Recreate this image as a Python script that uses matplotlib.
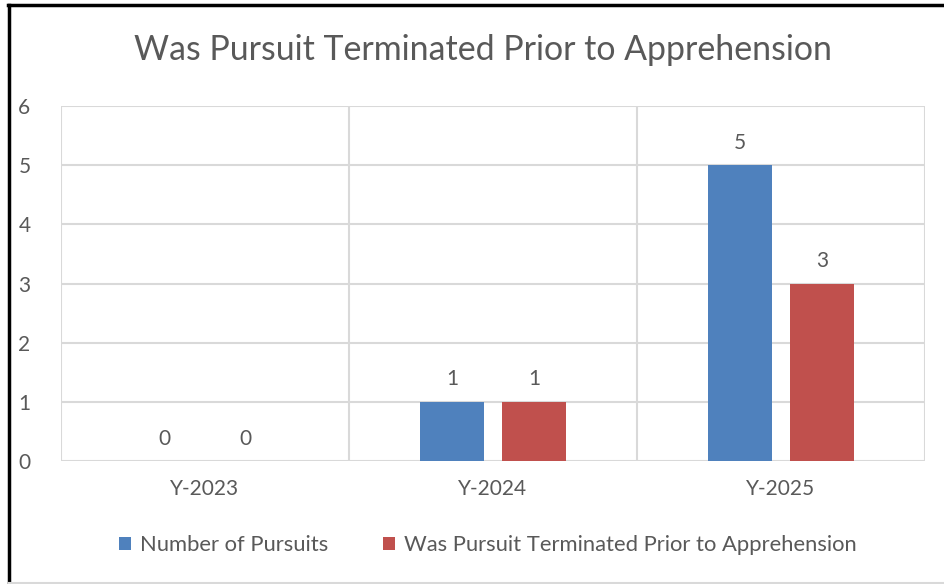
import numpy as np
import matplotlib.pyplot as plt
from matplotlib.lines import Line2D

plt.rcParams['font.family'] = ['Lato', 'DejaVu Sans']

# data
years = ['Y-2023', 'Y-2024', 'Y-2025']
pursuits = [0, 1, 5]
terminated = [0, 1, 3]
series_names = ['Number of Pursuits', 'Was Pursuit Terminated Prior to Apprehension']

blue = '#4F81BD'
red = '#C0504D'
grey_txt = '#595959'
grid_c = '#D9D9D9'

fig = plt.figure(figsize=(9.45, 5.84), dpi=100)
ax = fig.add_axes([0.0646, 0.2106, 0.9142, 0.6079])

x = np.arange(len(years))
w = 0.222
off = 0.142
b1 = ax.bar(x - off, pursuits, w, color=blue, label=series_names[0], zorder=3)
b2 = ax.bar(x + off, terminated, w, color=red, label=series_names[1], zorder=3)

for bars, vals in [(b1, pursuits), (b2, terminated)]:
    for rect, v in zip(bars, vals):
        ax.annotate(str(v), (rect.get_x() + rect.get_width() / 2, v),
                    xytext=(0, 9), textcoords='offset points',
                    ha='center', va='bottom', fontsize=15, color=grey_txt)

ax.set_xlim(-0.5, 2.5)
ax.set_ylim(0, 6)
ax.set_yticks(range(7))
ax.set_xticks(x)
ax.set_xticklabels(years)
ax.tick_params(axis='both', length=0, labelsize=15, labelcolor=grey_txt)
ax.tick_params(axis='y', pad=22)
ax.tick_params(axis='x', pad=13)

# gridlines and category separators
ax.yaxis.grid(True, color=grid_c, lw=1.5, zorder=0)
for sep in [-0.5, 0.5, 1.5, 2.5]:
    ax.axvline(sep, color=grid_c, lw=1.5, zorder=0)
for s in ax.spines.values():
    s.set_visible(False)

fig.text(483 / 945, 1 - 50 / 584, 'Was Pursuit Terminated Prior to Apprehension',
         ha='center', va='center', fontsize=24.4, color=grey_txt)

fig.legend(handles=[b1, b2], loc='center', bbox_to_anchor=(0.516, 1 - 545 / 584),
           ncol=2, frameon=False, fontsize=15.8, labelcolor=grey_txt,
           handlelength=0.56, handleheight=0.56, handletextpad=0.4, columnspacing=2.5)

# outer border like the screenshot
fig.add_artist(Line2D([8 / 945, 1], [1 - 5 / 584, 1 - 5 / 584], color='black', lw=2.5,
                      transform=fig.transFigure))
fig.add_artist(Line2D([9 / 945, 9 / 945], [0, 1 - 5 / 584], color='black', lw=2.5,
                      transform=fig.transFigure))
fig.add_artist(Line2D([9 / 945, 1], [1 / 584, 1 / 584], color=grid_c, lw=1.5,
                      transform=fig.transFigure))

fig.savefig('out.png', dpi=100)
